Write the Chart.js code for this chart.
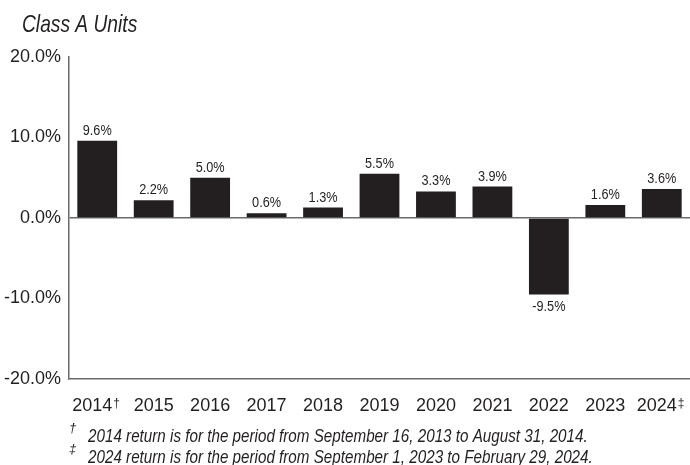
<!DOCTYPE html>
<html>
<head>
<meta charset="utf-8">
<script src="https://cdn.jsdelivr.net/npm/chart.js@4.4.1/dist/chart.umd.min.js"></script>
<style>
  html, body { margin: 0; padding: 0; background: #fff; }
  #wrap { width: 690px; height: 465px; position: relative; }
</style>
</head>
<body>
<div id="wrap"><canvas id="myChart" width="690" height="465"></canvas></div>
<script>
// data
const years = ['2014', '2015', '2016', '2017', '2018', '2019', '2020', '2021', '2022', '2023', '2024'];
const returns = [9.6, 2.2, 5.0, 0.6, 1.3, 5.5, 3.3, 3.9, -9.5, 1.6, 3.6];
const yTicks = [-20, -10, 0, 10, 20];
const marks = { '2014': '\u2020', '2024': '\u2021' };
const title = 'Class A Units';
const notes = [
  ['\u2020', '2014 return is for the period from September 16, 2013 to August 31, 2014.'],
  ['\u2021', '2024 return is for the period from September 1, 2023 to February 29, 2024.']
];

const FONT = '"Liberation Sans", Arial, sans-serif';
const ink = '#231f20';
const axisGray = '#6b6b6b';

// the original type is a narrow face, so squeeze our own text a bit
function narrowText(ctx, text, x, y, align, k) {
  ctx.save();
  ctx.translate(x, y);
  ctx.scale(k || 0.82, 1);
  ctx.textAlign = align || 'left';
  ctx.fillText(text, 0, 0);
  ctx.restore();
}

// value labels above / below each bar
const barLabels = {
  id: 'barLabels',
  afterDatasetsDraw(chart) {
    const ctx = chart.ctx;
    const meta = chart.getDatasetMeta(0);
    ctx.save();
    ctx.font = '15.5px ' + FONT;
    ctx.fillStyle = ink;
    ctx.textBaseline = 'alphabetic';
    meta.data.forEach((bar, i) => {
      const v = returns[i];
      const y = v >= 0 ? bar.y - 6 : bar.y + 17;
      narrowText(ctx, v.toFixed(1) + '%', bar.x, y, 'center');
    });
    ctx.restore();
  }
};

// superscript daggers on the tick labels, plus title and footnotes
const extras = {
  id: 'extras',
  afterDraw(chart) {
    const ctx = chart.ctx;
    const xs = chart.scales.x;
    ctx.save();
    ctx.fillStyle = ink;
    ctx.textBaseline = 'alphabetic';

    ctx.font = '18px ' + FONT;
    const yearW = ctx.measureText('2014').width;
    const fullW = ctx.measureText('2014  ').width;
    ctx.font = '12px ' + FONT;
    ctx.textAlign = 'left';
    years.forEach((yr, i) => {
      if (!marks[yr]) return;
      const cx = xs.getPixelForTick(i);
      ctx.fillText(marks[yr], cx - fullW / 2 + yearW + 1, 407);
    });

    ctx.font = 'italic 24px ' + FONT;
    narrowText(ctx, title, 22, 32, 'left', 0.8);

    notes.forEach((n, i) => {
      const base = 442 + i * 21;
      ctx.font = 'italic 13px ' + FONT;
      ctx.fillText(n[0], 69, base - 10);
      ctx.font = 'italic 18px ' + FONT;
      narrowText(ctx, n[1], 88, base, 'left', 0.845);
    });
    ctx.restore();
  }
};

const chart = new Chart(
  document.getElementById('myChart'),
  {
    type: 'bar',
    data: {
      labels: years,
      datasets: [{
        data: returns,
        backgroundColor: ink,
        borderWidth: 0,
        categoryPercentage: 1,
        barPercentage: 0.705
      }]
    },
    options: {
      responsive: false,
      animation: false,
      events: [],
      layout: { padding: { top: 57, left: 0, right: -2, bottom: 0 } },
      plugins: {
        legend: { display: false },
        tooltip: { enabled: false },
        title: { display: false }
      },
      scales: {
        x: {
          grid: { display: false, drawTicks: false },
          border: { display: true, color: axisGray, width: 1.5 },
          ticks: {
            color: ink,
            font: { family: FONT, size: 18 },
            padding: 16,
            maxRotation: 0,
            autoSkip: false,
            callback: (v, i) => years[i] + (marks[years[i]] ? '  ' : '')
          },
          afterFit: (s) => {
            s.height = 86;
            // labels sit inside their columns, no extra side room needed
            s.paddingLeft = 0;
            s.paddingRight = 0;
          }
        },
        y: {
          min: -20,
          max: 20,
          afterBuildTicks: (s) => { s.ticks = yTicks.map(v => ({ value: v })); },
          grid: {
            drawTicks: false,
            color: (c) => (c.tick && c.tick.value === 0 ? axisGray : 'rgba(0,0,0,0)'),
            lineWidth: 1.5
          },
          border: { display: true, color: axisGray, width: 1.5 },
          ticks: {
            color: ink,
            font: { family: FONT, size: 18 },
            padding: 8,
            callback: (v) => v.toFixed(1) + '%'
          },
          afterFit: (s) => { s.width = 69; }
        }
      }
    },
    plugins: [barLabels, extras]
  }
);
</script>
</body>
</html>
